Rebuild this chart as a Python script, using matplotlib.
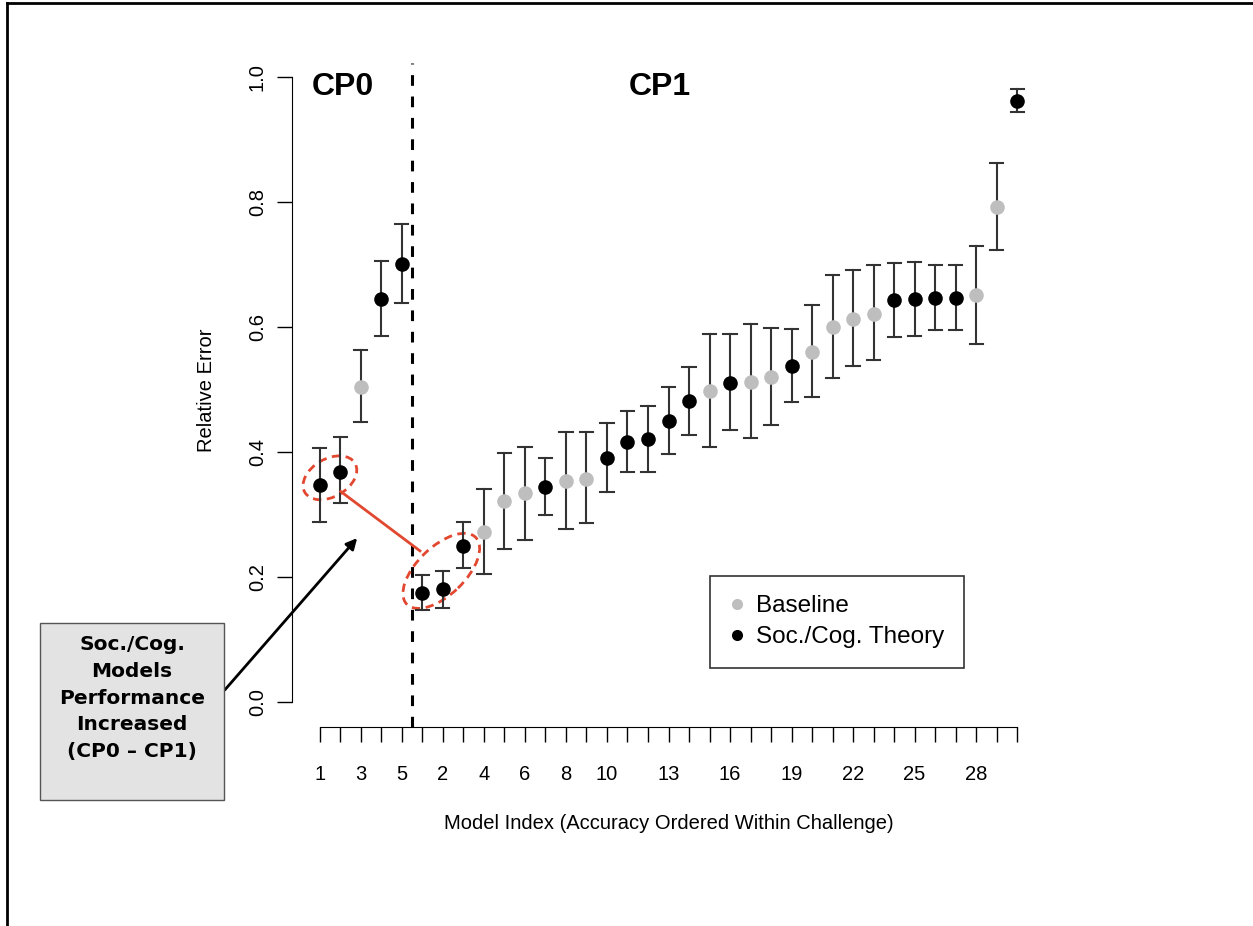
import matplotlib
matplotlib.use('Agg')
import matplotlib.pyplot as plt
from matplotlib.patches import Ellipse, Rectangle
from matplotlib.transforms import ScaledTranslation
from matplotlib.lines import Line2D

# CP0 challenge (5 models)
cp0_mean = [0.347, 0.369, 0.505, 0.645, 0.701]
cp0_lo = [0.289, 0.318, 0.448, 0.586, 0.639]
cp0_hi = [0.407, 0.424, 0.564, 0.706, 0.765]
cp0_kind = ['soc', 'soc', 'base', 'soc', 'soc']

# CP1 challenge (30 models)
cp1_mean = [0.175, 0.181, 0.250, 0.273, 0.322, 0.334, 0.345, 0.354, 0.357, 0.391,
            0.416, 0.421, 0.450, 0.482, 0.498, 0.511, 0.513, 0.520, 0.538, 0.561,
            0.601, 0.614, 0.622, 0.644, 0.645, 0.647, 0.647, 0.651, 0.792, 0.962]
cp1_lo = [0.148, 0.151, 0.215, 0.205, 0.245, 0.260, 0.300, 0.277, 0.286, 0.337,
          0.368, 0.369, 0.397, 0.428, 0.408, 0.435, 0.422, 0.444, 0.481, 0.488,
          0.519, 0.538, 0.547, 0.584, 0.586, 0.595, 0.595, 0.574, 0.723, 0.945]
cp1_hi = [0.203, 0.210, 0.288, 0.341, 0.398, 0.409, 0.390, 0.432, 0.433, 0.446,
          0.466, 0.474, 0.505, 0.537, 0.589, 0.589, 0.605, 0.599, 0.597, 0.636,
          0.683, 0.692, 0.699, 0.703, 0.705, 0.699, 0.699, 0.730, 0.863, 0.982]
cp1_kind = ['soc', 'soc', 'soc', 'base', 'base', 'base', 'soc', 'base', 'base', 'soc',
            'soc', 'soc', 'soc', 'soc', 'base', 'soc', 'base', 'base', 'soc', 'base',
            'base', 'base', 'base', 'soc', 'soc', 'soc', 'soc', 'base', 'base', 'soc']

mean = cp0_mean + cp1_mean
lo = cp0_lo + cp1_lo
hi = cp0_hi + cp1_hi
kind = cp0_kind + cp1_kind
pos = list(range(1, len(mean) + 1))
tick_text = [str(i) for i in range(1, 6)] + [str(i) for i in range(1, 31)]
shown = [1, 3, 5, 7, 9, 11, 13, 15, 18, 21, 24, 27, 30, 33]

colors = {'base': '#bebebe', 'soc': 'black'}
font = 'Liberation Sans'

fig = plt.figure(figsize=(12.53, 9.26), dpi=100)
ax = fig.add_axes([292 / 1253, 1 - 727 / 926, 753 / 1253, 674.5 / 926])

for i in range(len(pos)):
    ax.plot([pos[i], pos[i]], [lo[i], hi[i]], color='#333333', lw=1.5, zorder=2)
    ax.plot([pos[i] - 0.32, pos[i] + 0.32], [lo[i], lo[i]], color='#333333', lw=1.5, zorder=2)
    ax.plot([pos[i] - 0.32, pos[i] + 0.32], [hi[i], hi[i]], color='#333333', lw=1.5, zorder=2)
    ax.plot(pos[i], mean[i], 'o', color=colors[kind[i]], ms=10.5, mec='none', zorder=3)

ax.axvline(5.5, ymax=0.985, color='black', lw=2.2, ls=(0, (3.5, 3.5)), zorder=1)

ax.set_xlim(-0.36, 36.36)
ax.set_ylim(-0.04, 1.04)
for s in ['top', 'right']:
    ax.spines[s].set_visible(False)
ax.spines['left'].set_bounds(0, 1)
ax.spines['bottom'].set_bounds(1, 35)
ax.set_xticks(pos)
ax.set_xticklabels([tick_text[p - 1] if p in shown else '' for p in pos],
                   fontsize=14.5, family=font)
ax.set_yticks([0, 0.2, 0.4, 0.6, 0.8, 1.0])
ax.set_yticklabels(['0.0', '0.2', '0.4', '0.6', '0.8', '1.0'], rotation=90,
                   va='center', fontsize=14.5, family=font)
ax.tick_params(length=11, width=1)
ax.tick_params(axis='x', pad=16)
ax.tick_params(axis='y', pad=7)
ax.set_xlabel('Model Index (Accuracy Ordered Within Challenge)', fontsize=14.5,
              family=font, labelpad=22)
ax.set_ylabel('Relative Error', fontsize=14.5, family=font, labelpad=23)

ax.text(2.12, 0.985, 'CP0', fontsize=23, fontweight='bold', family=font,
        ha='center', va='center')
ax.text(17.6, 0.985, 'CP1', fontsize=23, fontweight='bold', family=font,
        ha='center', va='center')

# red dashed ellipses (sizes in inches so they keep their shape)
red = '#e2472f'
e1 = Ellipse((0, 0), 0.58, 0.38, angle=30, fill=False, ec=red, lw=2, ls=(0, (3, 2)),
             transform=fig.dpi_scale_trans + ScaledTranslation(1.49, 0.359, ax.transData))
e2 = Ellipse((0, 0), 0.96, 0.48, angle=44, fill=False, ec=red, lw=2, ls=(0, (3, 2)),
             transform=fig.dpi_scale_trans + ScaledTranslation(6.92, 0.210, ax.transData))
ax.add_patch(e1)
ax.add_patch(e2)
ax.plot([2.02, 5.88], [0.337, 0.242], color=red, lw=2, zorder=4)

leg_handles = [Line2D([], [], marker='o', ls='none', color=colors['base'], ms=8, mec='none'),
               Line2D([], [], marker='o', ls='none', color=colors['soc'], ms=8, mec='none')]
leg = ax.legend(leg_handles, ['Baseline', 'Soc./Cog. Theory'], loc='upper left',
                bbox_to_anchor=(710 / 1253, 1 - 576 / 926), bbox_transform=fig.transFigure,
                prop={'family': font, 'size': 17.5}, fancybox=False, framealpha=1,
                edgecolor='#333333', borderpad=0.8, handlelength=0.6, handletextpad=0.5,
                labelspacing=0.37, borderaxespad=0)
leg.get_frame().set_linewidth(1.2)

# annotation box on the left
fig.patches.append(Rectangle((40 / 1253, 1 - 800 / 926), 184 / 1253, 177 / 926,
                             transform=fig.transFigure, fc='#e3e3e3', ec='#555555', lw=1))
fig.text(132 / 1253, 1 - 698 / 926, 'Soc./Cog.\nModels\nPerformance\nIncreased\n(CP0 \u2013 CP1)',
         ha='center', va='center', fontsize=14.5, fontweight='bold', family='DejaVu Sans',
         linespacing=1.5)
ax.annotate('', xy=(359 / 1253, 1 - 536 / 926), xycoords='figure fraction',
            xytext=(223 / 1253, 1 - 692 / 926), textcoords='figure fraction',
            arrowprops=dict(arrowstyle='-|>', color='black', lw=2, mutation_scale=16))

# outer frame of the picture
fig.add_artist(Line2D([7 / 1253, 1], [1 - 3 / 926, 1 - 3 / 926], color='black', lw=2))
fig.add_artist(Line2D([7 / 1253, 7 / 1253], [0, 1 - 3 / 926], color='black', lw=2))

fig.savefig('out.png', dpi=100)
